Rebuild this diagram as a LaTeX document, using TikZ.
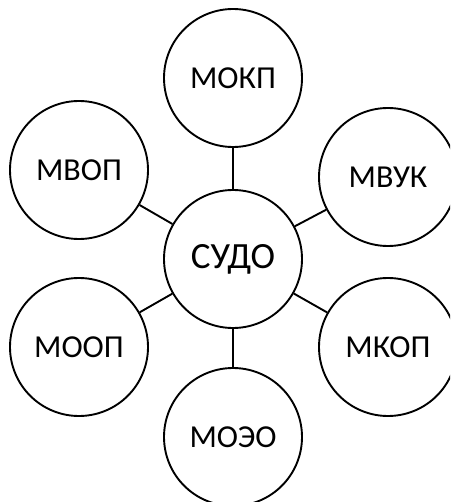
\documentclass[tikz,border=0pt]{standalone}
\usepackage{fontspec}
\setmainfont{Carlito}
\usetikzlibrary{positioning}

\begin{document}
\begin{tikzpicture}[
        x=1pt, y=-1pt,
        module-circle/.style={
            draw,
            circle,
            line width=1.9pt,
            fill=white,
            inner sep=0pt,
            minimum size=138pt,
            font=\fontsize{32}{36}\selectfont,
        },
    ]
    \useasboundingbox (0, 0) rectangle (450, 502);
    \clip (0, 0) rectangle (450, 502);

    \node[module-circle, font=\fontsize{37}{40}\selectfont] (sudo) at (233, 259) {СУДО};

    \foreach \name/\text/\x/\y in {mokp/МОКП/233/78, mvop/МВОП/79/170, mvuk/МВУК/388/177,
                                   moop/МООП/79/347, mkop/МКОП/388/347, moeo/МОЭО/233/437}
    {
        \node[module-circle] (\name) at (\x, \y) {\text};
        \draw[line width=1.9pt] (sudo) -- (\name);
    }
\end{tikzpicture}
\end{document}
